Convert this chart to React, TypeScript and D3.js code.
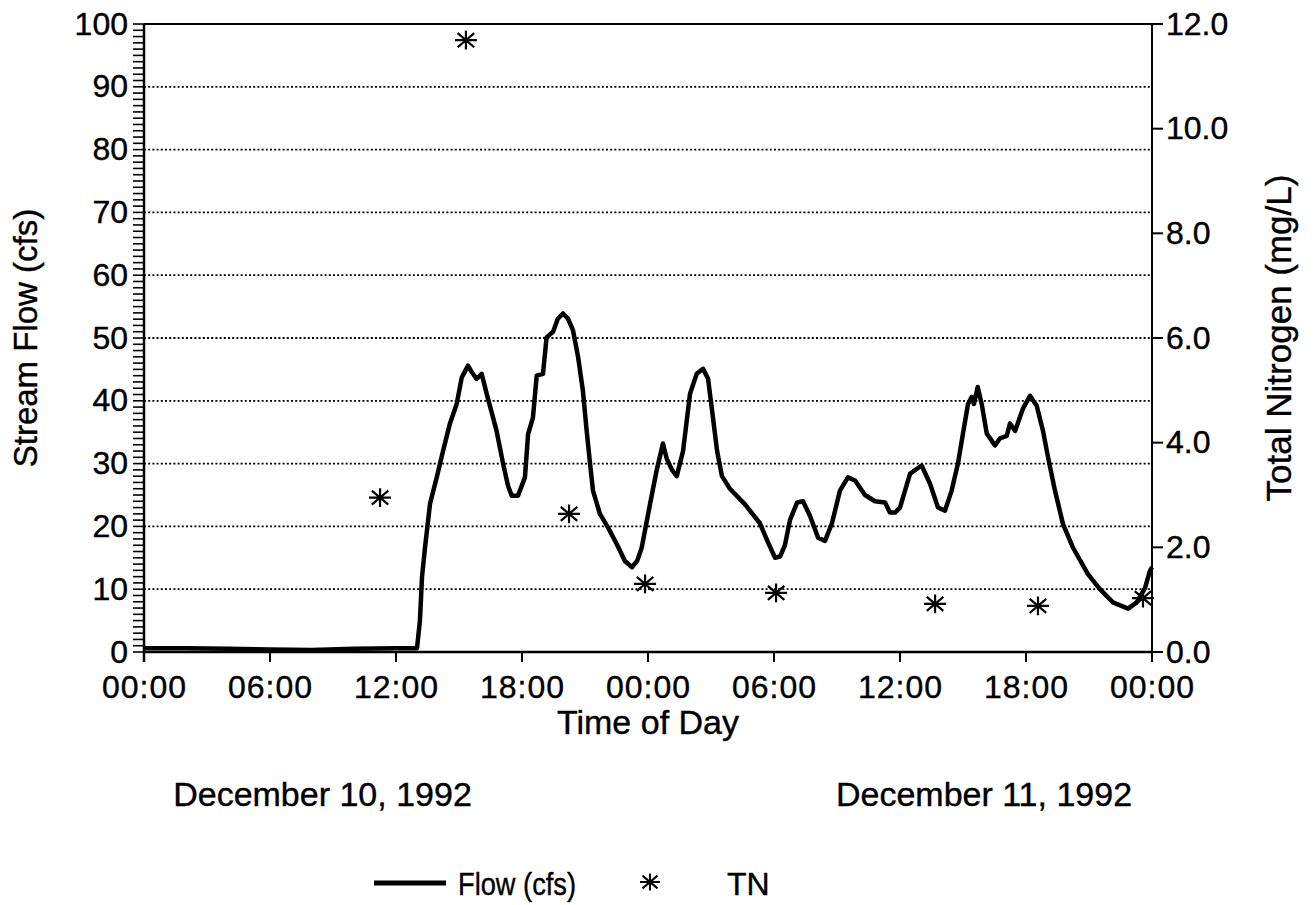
import React from "react";
import * as d3 from "d3";

// stream flow trace, hours since 00:00 Dec 10 -> cfs
const flowHours = [
  0, 2, 4, 6, 8, 10, 12, 13.0, 13.14, 13.24, 13.38, 13.62, 13.94, 14.24, 14.57, 14.89,
  15.13, 15.43, 15.62, 15.84, 16.08, 16.32, 16.79, 17.1, 17.33, 17.51, 17.81, 18.14,
  18.29, 18.52, 18.7, 19.0, 19.17, 19.48, 19.71, 19.95, 20.19, 20.43, 20.67, 20.9,
  21.08, 21.24, 21.38, 21.71, 22.1, 22.51, 22.9, 23.24, 23.48, 23.7, 24.1, 24.41,
  24.71, 24.89, 25.14, 25.37, 25.67, 26.0, 26.32, 26.62, 26.86, 27.05, 27.29, 27.52,
  27.9, 28.62, 29.33, 29.71, 30.05, 30.29, 30.52, 30.76, 31.1, 31.38, 31.71, 32.1,
  32.43, 32.76, 33.14, 33.52, 33.86, 34.33, 34.81, 35.29, 35.52, 35.76, 36.0, 36.48,
  37.03, 37.43, 37.81, 38.14, 38.46, 38.76, 39.0, 39.24, 39.41, 39.52, 39.7, 39.89,
  40.13, 40.52, 40.76, 41.08, 41.24, 41.48, 41.86, 42.19, 42.51, 42.81, 43.05, 43.38,
  43.76, 44.24, 44.95, 45.52, 46.14, 46.86, 47.27, 47.67, 47.9, 48,
];
const flowValues = [
  0.6, 0.6, 0.5, 0.4, 0.3, 0.5, 0.6, 0.6, 5, 12, 16.6, 23.6, 27.8, 32, 36.4, 39.5,
  43.7, 45.6, 44.5, 43.5, 44.3, 41.1, 35.2, 30, 26.5, 24.9, 24.9, 27.8,
  34.7, 37.3, 44, 44.3, 50.1, 51, 53.1, 53.9, 53.1, 51.2, 47, 41.6,
  35.2, 30, 25.7, 22, 19.8, 17.2, 14.5, 13.5, 14.5, 16.6, 23.6, 28.9,
  33.2, 30.8, 29, 28, 32, 41.1, 44.3, 45.1, 43.5, 38.5, 32, 28,
  26, 23.5, 20.5, 17.5, 15, 15.2, 17, 21, 23.8, 24, 21.7, 18.2,
  17.7, 20.5, 25.7, 27.8, 27.3, 25, 24, 23.8, 22.2, 22.2, 23, 28.4,
  29.7, 26.8, 23, 22.5, 25.7, 30, 34.8, 39.5, 40.6, 39.5, 42.2, 39.5,
  34.8, 32.9, 34, 34.4, 36.4, 35.2, 38.8, 40.8, 39.2, 35.2, 31, 25.7,
  20.4, 16.6, 12.4, 10, 7.9, 6.9, 7.9, 10.2, 12.9, 13.5,
];

// total nitrogen samples (mg/L)
const tnHours = [11.24, 15.33, 20.24, 23.86, 30.1, 37.67, 42.57, 47.57];
const tnValues = [2.95, 11.69, 2.64, 1.3, 1.13, 0.92, 0.88, 1.03];

const xTickHours = [0, 6, 12, 18, 24, 30, 36, 42, 48];
const xTickLabels = ["00:00", "06:00", "12:00", "18:00", "00:00", "06:00", "12:00", "18:00", "00:00"];
const leftTicks = [0, 10, 20, 30, 40, 50, 60, 70, 80, 90, 100];
const rightTicks = [0, 2, 4, 6, 8, 10, 12];
const dateLabels = ["December 10, 1992", "December 11, 1992"];
const dateHours = [8.5, 40];

const W = 1315;
const H = 905;
const m = { left: 144, right: 1152, top: 24, bottom: 652 };
const font = "'Liberation Sans', Arial, sans-serif";

const star = (cx: number, cy: number, r: number) => {
  const ry = r * 0.85;
  const d = r * 0.75;
  return `M${cx - r},${cy}L${cx + r},${cy}M${cx},${cy - ry}L${cx},${cy + ry}` +
    `M${cx - d},${cy - d * 0.85}L${cx + d},${cy + d * 0.85}M${cx - d},${cy + d * 0.85}L${cx + d},${cy - d * 0.85}`;
};

export default function App() {
  const x = d3.scaleLinear().domain([0, 48]).range([m.left, m.right]);
  const y = d3.scaleLinear().domain([0, 100]).range([m.bottom, m.top]);
  const y2 = d3.scaleLinear().domain([0, 12]).range([m.bottom, m.top]);

  const flowLine = d3
    .line<number>()
    .x((d, i) => x(flowHours[i]))
    .y((d) => y(d));

  const minor = d3.range(0, 101, 1);
  const txt = { fill: "#000", stroke: "#000", strokeWidth: 0.4 };

  return (
    <svg width={W} height={H} style={{ position: "absolute", left: 0, top: 0, background: "#fff" }} fontFamily={font}>
      {/* gridlines */}
      {leftTicks.slice(1, -1).map((t) => (
        <line key={"g" + t} x1={m.left} x2={m.right} y1={y(t)} y2={y(t)} stroke="#000" strokeWidth={1.8} strokeDasharray="2 2.2" />
      ))}
      {/* frame */}
      <line x1={m.left} x2={m.right} y1={m.top} y2={m.top} stroke="#000" strokeWidth={2} />
      <line x1={m.left} x2={m.right} y1={m.bottom} y2={m.bottom} stroke="#000" strokeWidth={2.5} />
      <line x1={m.left} x2={m.left} y1={m.top} y2={m.bottom + 10} stroke="#000" strokeWidth={2.5} />
      <line x1={m.right} x2={m.right} y1={m.top} y2={m.bottom + 10} stroke="#000" strokeWidth={2} />

      {/* left axis minor ticks */}
      {minor.map((t) => (
        <line key={"m" + t} x1={m.left - 11} x2={m.left} y1={y(t)} y2={y(t)} stroke="#000" strokeWidth={1.6} />
      ))}
      {leftTicks.map((t) => (
        <text key={"l" + t} x={128} y={y(t)} dy="0.33em" textAnchor="end" fontSize={32} {...txt}>
          {t}
        </text>
      ))}

      {/* right axis */}
      {rightTicks.map((t) => (
        <g key={"r" + t}>
          <line x1={m.right} x2={m.right + 11} y1={y2(t)} y2={y2(t)} stroke="#000" strokeWidth={2} />
          <text x={m.right + 14} y={y2(t)} dy="0.33em" fontSize={32} {...txt}>
            {t.toFixed(1)}
          </text>
        </g>
      ))}

      {/* x axis */}
      {xTickHours.map((h, i) => (
        <g key={"x" + i}>
          <line x1={x(h)} x2={x(h)} y1={m.bottom} y2={m.bottom + 10} stroke="#000" strokeWidth={2} />
          <text x={x(h)} y={698} textAnchor="middle" fontSize={32} textLength={84} lengthAdjust="spacing" {...txt}>
            {xTickLabels[i]}
          </text>
        </g>
      ))}
      <text x={x(24)} y={734} textAnchor="middle" fontSize={34} {...txt}>
        Time of Day
      </text>
      {dateLabels.map((d, i) => (
        <text key={d} x={x(dateHours[i])} y={806} textAnchor="middle" fontSize={34} {...txt}>
          {d}
        </text>
      ))}

      {/* axis titles */}
      <text transform={`translate(37,${(m.top + m.bottom) / 2}) rotate(-90)`} textAnchor="middle" fontSize={33} {...txt}>
        Stream Flow (cfs)
      </text>
      <text transform={`translate(1291,${(m.top + m.bottom) / 2}) rotate(-90)`} textAnchor="middle" fontSize={35} {...txt}>
        Total Nitrogen (mg/L)
      </text>

      {/* flow */}
      <path d={flowLine(flowValues) || ""} fill="none" stroke="#000" strokeWidth={4.5} strokeLinejoin="round" />

      {/* TN */}
      {tnValues.map((v, i) => (
        <path key={"tn" + i} d={star(x(tnHours[i]), y2(v), 11)} stroke="#000" strokeWidth={2.2} />
      ))}

      {/* legend */}
      <line x1={374} x2={446} y1={883} y2={883} stroke="#000" strokeWidth={5} />
      <text x={458} y={895} fontSize={32} textLength={118} lengthAdjust="spacingAndGlyphs" {...txt}>
        Flow (cfs)
      </text>
      <path d={star(650, 882, 10)} stroke="#000" strokeWidth={2} />
      <text x={727} y={895} fontSize={32} {...txt}>
        TN
      </text>
    </svg>
  );
}
